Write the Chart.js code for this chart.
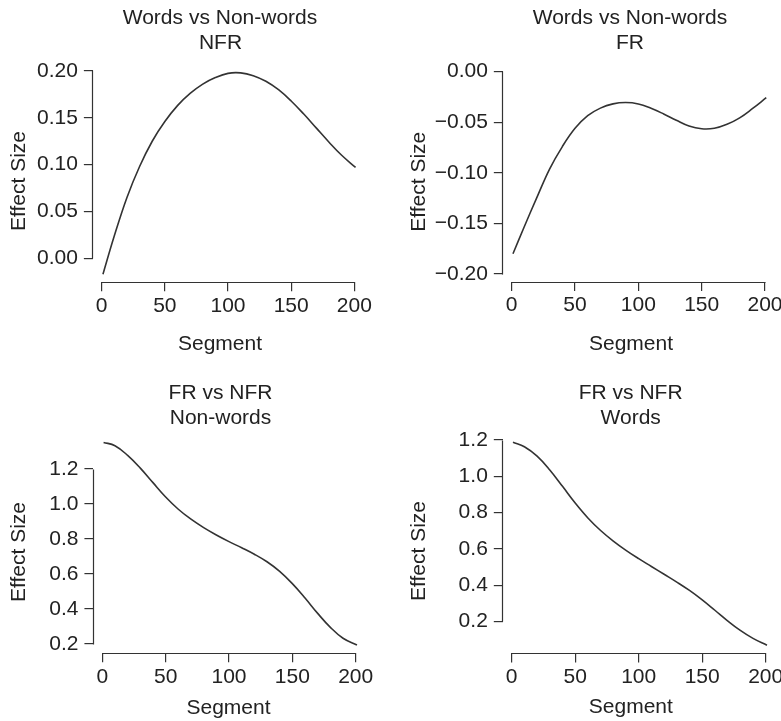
<!DOCTYPE html>
<html>
<head>
<meta charset="utf-8">
<script src="https://cdn.jsdelivr.net/npm/chart.js@4.4.1/dist/chart.umd.min.js"></script>
<style>
html,body{margin:0;padding:0;background:#fff;overflow:hidden;}
#wrap{position:relative;width:781px;height:721px;overflow:hidden;background:#fff;}
#wrap canvas{position:absolute;left:0;top:0;}
</style>
</head>
<body>
<div id="wrap">
<canvas id="c1" width="860" height="721"></canvas>
<canvas id="c2" width="860" height="721"></canvas>
<canvas id="c3" width="860" height="721"></canvas>
<canvas id="c4" width="860" height="721"></canvas>
</div>
<script>
// ---- data ----
const segments = [1, 10, 20, 30, 40, 50, 60, 70, 80, 90, 100, 110, 120, 130, 140, 150, 160, 170, 180, 190, 201];
const wordsVsNonwordsNFR = [-0.017, 0.024, 0.065, 0.098, 0.125, 0.146, 0.163, 0.176, 0.186, 0.193, 0.1975, 0.198, 0.195, 0.189, 0.180, 0.168, 0.154, 0.139, 0.124, 0.110, 0.097];
const wordsVsNonwordsFR = [-0.180, -0.153, -0.124, -0.096, -0.074, -0.056, -0.0435, -0.036, -0.0318, -0.0305, -0.0319, -0.0362, -0.0418, -0.0480, -0.0537, -0.0564, -0.0559, -0.0520, -0.0456, -0.0366, -0.0257];
const frVsNfrNonwords = [1.352, 1.333, 1.278, 1.205, 1.122, 1.040, 0.970, 0.913, 0.865, 0.823, 0.785, 0.750, 0.713, 0.670, 0.615, 0.545, 0.463, 0.375, 0.295, 0.233, 0.194];
const frVsNfrWords = [1.187, 1.163, 1.111, 1.035, 0.945, 0.853, 0.771, 0.702, 0.644, 0.593, 0.547, 0.504, 0.461, 0.418, 0.372, 0.320, 0.263, 0.205, 0.152, 0.108, 0.070];

const xTicks = [0, 50, 100, 150, 200];
const yTicksNFR = [0, 0.05, 0.10, 0.15, 0.20];
const yTicksFR = [-0.20, -0.15, -0.10, -0.05, 0.00];
const yTicksBottom = [0.2, 0.4, 0.6, 0.8, 1.0, 1.2];
const ylimFR = [-0.20, 0.00];

const titlesTL = ['Words vs Non-words', 'NFR'];
const titlesTR = ['Words vs Non-words', 'FR'];
const titlesBL = ['FR vs NFR', 'Non-words'];
const titlesBR = ['FR vs NFR', 'Words'];
const xLabel = 'Segment';
const yLabel = 'Effect Size';

// ---- layout / style ----
const CW = 860, CH = 721, WY = 80, HX = 40;
const FONT = '"Liberation Sans", Arial, Helvetica, sans-serif';
const INK = '#222';
const LINE = '#333';
Chart.defaults.font.family = FONT;
Chart.defaults.font.size = 21;
Chart.defaults.color = INK;

function fmt2(v) { return Math.abs(v) < 1e-9 ? '0.00' : (v < 0 ? '\u2212' + Math.abs(v).toFixed(2) : v.toFixed(2)); }
function fmt1(v) { return v.toFixed(1); }

function expand(lo, hi) { const d = (hi - lo) * 0.04; return [lo - d, hi + d]; }

const axisPlugin = {
  id: 'rAxes',
  afterDraw(chart, args, opts) {
    const yt = opts.yTicks, t = opts.texts;
    if (!yt || !t) return;
    const ctx = chart.ctx, ca = chart.chartArea;
    const xs = chart.scales.x, ys = chart.scales.y;
    const al = p => Math.round(p - 0.5) + 0.5;
    ctx.save();
    ctx.strokeStyle = LINE;
    ctx.lineWidth = 1.2;
    ctx.beginPath();
    const yb = al(ca.bottom);
    ctx.moveTo(al(xs.getPixelForValue(xTicks[0])), yb);
    ctx.lineTo(al(xs.getPixelForValue(xTicks[xTicks.length - 1])), yb);
    const xl = al(ca.left);
    ctx.moveTo(xl, al(ys.getPixelForValue(yt[0])));
    ctx.lineTo(xl, al(ys.getPixelForValue(yt[yt.length - 1])));
    ctx.stroke();
    ctx.fillStyle = INK;
    ctx.font = '21px ' + FONT;
    ctx.textAlign = 'center';
    ctx.textBaseline = 'alphabetic';
    t.title.forEach((s, i) => ctx.fillText(s, t.tx[i], t.ty[i]));
    ctx.fillText(xLabel, t.xl[0], t.xl[1]);
    ctx.translate(t.yl[0], t.yl[1]);
    ctx.rotate(-Math.PI / 2);
    ctx.fillText(yLabel, 0, 0);
    ctx.restore();
  }
};

function makePanel(id, cfg) {
  const xr = expand(segments[0], segments[segments.length - 1]);
  const yr = cfg.ylim ? expand(cfg.ylim[0], cfg.ylim[1]) : expand(Math.min(...cfg.values), Math.max(...cfg.values));
  const xPer = (cfg.x200 - cfg.x0) / 200;
  const yPer = (cfg.yA[1] - cfg.yB[1]) / (cfg.yB[0] - cfg.yA[0]);
  const L = cfg.x0 + xr[0] * xPer;
  const R = cfg.x0 + xr[1] * xPer;
  const B = cfg.yA[1] + (cfg.yA[0] - yr[0]) * yPer;
  const T = cfg.yA[1] - (yr[1] - cfg.yA[0]) * yPer;
  const pts = segments.map((s, i) => ({ x: s, y: cfg.values[i] }));
  return new Chart(document.getElementById(id), {
    type: 'line',
    data: { datasets: [{ data: pts, borderColor: LINE, borderWidth: 1.6, pointRadius: 0, fill: false, tension: 0.4 }] },
    options: {
      responsive: false, animation: false, events: [],
      layout: { padding: { left: L - WY, top: T, right: CW - R, bottom: CH - B - HX } },
      plugins: {
        legend: { display: false }, title: { display: false }, tooltip: { enabled: false },
        rAxes: { yTicks: cfg.yTicks, texts: cfg.texts }
      },
      scales: {
        x: {
          type: 'linear', min: xr[0], max: xr[1],
          afterBuildTicks: s => { s.ticks = xTicks.map(v => ({ value: v })); },
          afterFit: s => { s.height = HX; },
          grid: { drawOnChartArea: false, drawTicks: true, tickLength: 9, color: LINE, lineWidth: 1.2 },
          border: { display: false },
          ticks: { padding: 2, autoSkip: false, maxRotation: 0, minRotation: 0, color: INK, font: { size: 21 }, callback: v => String(v) }
        },
        y: {
          type: 'linear', min: yr[0], max: yr[1],
          afterBuildTicks: s => { s.ticks = cfg.yTicks.map(v => ({ value: v })); },
          afterFit: s => { s.width = WY; },
          grid: { drawOnChartArea: false, drawTicks: true, tickLength: 9, color: LINE, lineWidth: 1.2 },
          border: { display: false },
          ticks: { padding: 6, autoSkip: false, color: INK, font: { size: 21 }, callback: cfg.fmt }
        }
      }
    },
    plugins: [axisPlugin]
  });
}

makePanel('c1', {
  values: wordsVsNonwordsNFR, yTicks: yTicksNFR, fmt: fmt2,
  x0: 101.7, x200: 354.3, yA: [0, 258.3], yB: [0.20, 71.0],
  texts: { title: titlesTL, tx: [220, 220.5], ty: [23.5, 48.5], xl: [220, 349.5], yl: [25, 181] }
});
makePanel('c2', {
  values: wordsVsNonwordsFR, yTicks: yTicksFR, fmt: fmt2, ylim: ylimFR,
  x0: 511.7, x200: 765.0, yA: [-0.20, 274.0], yB: [0.00, 71.7],
  texts: { title: titlesTR, tx: [630, 630], ty: [23.5, 48.5], xl: [631, 349.5], yl: [425, 181.7] }
});
makePanel('c3', {
  values: frVsNfrNonwords, yTicks: yTicksBottom, fmt: fmt1,
  x0: 102.3, x200: 355.7, yA: [0.2, 644.0], yB: [1.2, 469.0],
  texts: { title: titlesBL, tx: [220.5, 220.5], ty: [398.5, 423.5], xl: [228.5, 714], yl: [25, 552] }
});
makePanel('c4', {
  values: frVsNfrWords, yTicks: yTicksBottom, fmt: fmt1,
  x0: 511.7, x200: 765.7, yA: [0.2, 621.7], yB: [1.2, 440.0],
  texts: { title: titlesBR, tx: [630.7, 630.7], ty: [398.5, 423.5], xl: [630.8, 713], yl: [425, 551] }
});
</script>
</body>
</html>
